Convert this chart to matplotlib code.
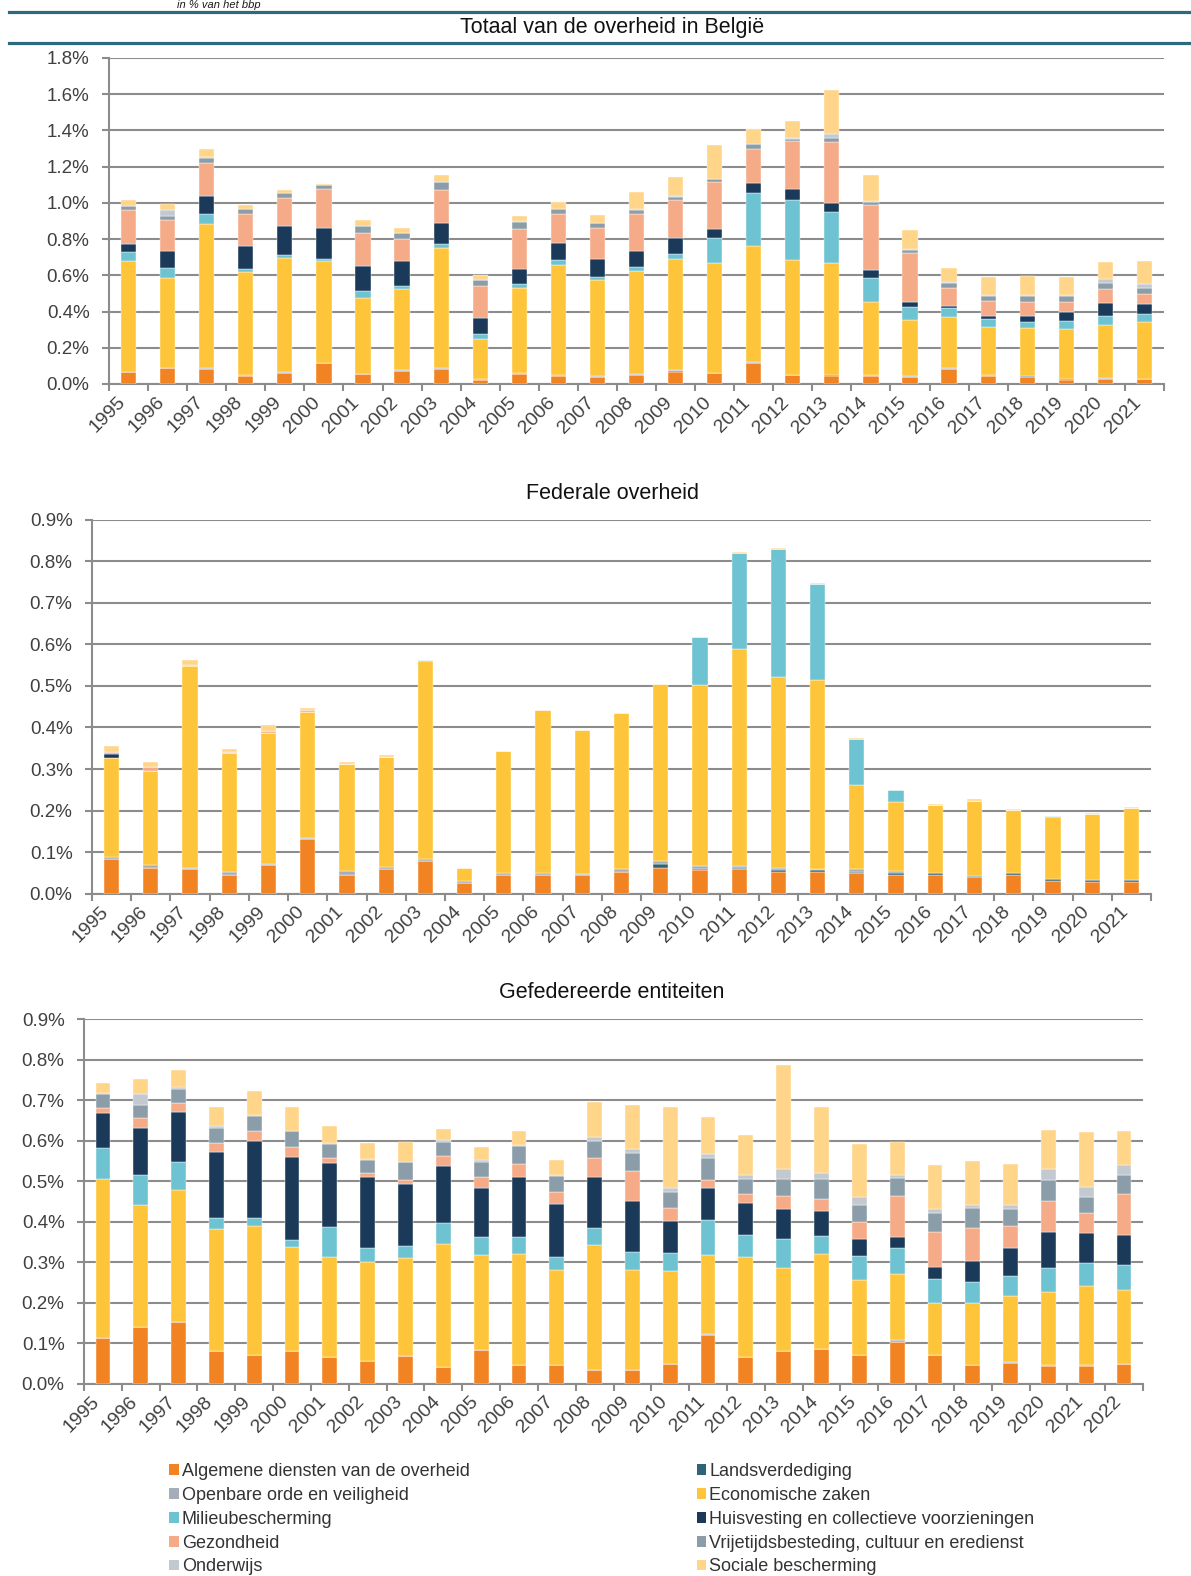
import numpy as np
import matplotlib
matplotlib.use("Agg")
import matplotlib.pyplot as plt
from matplotlib.patches import Patch
from matplotlib.lines import Line2D

plt.rcParams['font.family'] = ['Liberation Sans', 'DejaVu Sans']

# categorieen (volgorde van stapeling, van onder naar boven)
categorieen = ["Algemene diensten van de overheid", "Landsverdediging",
               "Openbare orde en veiligheid", "Economische zaken",
               "Milieubescherming", "Huisvesting en collectieve voorzieningen",
               "Gezondheid", "Vrijetijdsbesteding, cultuur en eredienst",
               "Onderwijs", "Sociale bescherming"]
kleuren = ["#F28322", "#2E6378", "#A5ADB8", "#FFC53A", "#6EC3D3",
           "#1B3A5A", "#F5AA88", "#8B9DA8", "#C3C9D0", "#FFD58A"]

jaren_tot = [str(j) for j in range(1995, 2022)]
jaren_fed = [str(j) for j in range(1995, 2022)]
jaren_gef = [str(j) for j in range(1995, 2023)]

# Totaal van de overheid in Belgie (in % van het bbp)
tot_alg = [.064, .086, .083, .044, .062, .116, .053, .072, .084, .024, .057, .046, .040, .051,
           .068, .059, .116, .048, .046, .046, .040, .083, .044, .040, .024, .029, .026]
tot_def = [0, 0, 0, 0, 0, 0, 0, 0, 0, 0, 0, 0, 0, 0,
           .005, 0, 0, 0, .005, 0, 0, 0, 0, .005, .005, 0, 0]
tot_ord = [.005, .004, .003, .003, .003, .002, .003, .003, .003, .002, .003, .003, .003, .004,
           .003, .004, .003, .004, 0, .005, .004, .005, .007, 0, 0, .006, .004]
tot_eco = [.608, .493, .795, .571, .630, .563, .417, .448, .662, .220, .470, .610, .531, .567,
           .612, .603, .644, .632, .615, .400, .312, .283, .265, .263, .276, .290, .313]
tot_mil = [.050, .059, .055, .019, .015, .011, .041, .016, .022, .029, .020, .024, .019, .024,
           .028, .141, .290, .334, .283, .136, .068, .049, .044, .033, .044, .049, .046]
tot_huis = [.047, .090, .101, .123, .162, .169, .136, .140, .119, .092, .083, .097, .095, .088,
            .088, .050, .057, .061, .051, .041, .027, .009, .014, .033, .049, .072, .053]
tot_gez = [.184, .176, .183, .181, .157, .216, .183, .119, .183, .172, .224, .161, .174, .207,
           .214, .257, .187, .260, .338, .359, .272, .099, .085, .081, .053, .079, .057]
tot_vrij = [.024, .022, .028, .026, .026, .022, .037, .035, .041, .033, .040, .026, .026, .017,
            .017, .016, .026, .015, .022, .019, .018, .032, .027, .029, .033, .031, .029]
tot_ond = [.003, .031, .003, .002, .002, .002, .003, .003, .003, .003, .003, .002, .002, .011,
           .003, .003, .002, .005, .022, .005, .002, .002, .004, .008, .006, .024, .022]
tot_soc = [.032, .035, .046, .022, .016, .005, .035, .028, .037, .025, .025, .037, .044, .090,
           .103, .188, .081, .091, .240, .143, .108, .080, .101, .106, .101, .095, .131]

# Federale overheid
fed_alg = [.083, .061, .059, .046, .068, .132, .046, .060, .079, .026, .045, .045, .045, .053,
           .062, .057, .059, .053, .053, .050, .046, .046, .039, .045, .030, .029, .029]
fed_def = [0, 0, 0, 0, 0, 0, 0, 0, 0, 0, 0, 0, 0, 0,
           .009, .003, .004, .004, .003, .003, .004, .004, .004, .005, .005, .005, .005]
fed_ord = [.006, .008, .004, .007, .004, .002, .009, .004, .004, .004, .005, .005, .003, .007,
           .008, .007, .004, .005, .004, .006, .005, 0, 0, 0, 0, 0, 0]
fed_eco = [.238, .225, .484, .285, .314, .304, .258, .266, .478, .032, .293, .391, .347, .374,
           .425, .435, .521, .459, .454, .203, .165, .163, .181, .152, .150, .158, .172]
fed_mil = [0, 0, 0, 0, 0, 0, 0, 0, .002, 0, 0, 0, 0, 0,
           0, .116, .231, .309, .230, .111, .030, 0, 0, 0, .003, 0, 0]
fed_huis = [.009, 0, 0, 0, 0, 0, 0, 0, 0, 0, 0, 0, 0, 0,
            0, 0, 0, 0, 0, 0, 0, 0, 0, 0, 0, 0, 0]
fed_gez = [.005, .012, .004, .002, .006, .004, 0, 0, 0, 0, 0, 0, 0, 0,
           0, 0, 0, 0, 0, 0, 0, 0, 0, 0, 0, 0, 0]
fed_vrij = [0] * 27
fed_ond = [0] * 27
fed_soc = [.015, .011, .012, .009, .013, .005, .003, .003, 0, 0, 0, 0, 0, 0,
           0, 0, .002, .002, .003, .002, 0, .002, .003, .002, 0, .002, .003]

# Gefedereerde entiteiten
gef_alg = [.112, .140, .153, .080, .072, .080, .066, .055, .069, .040, .084, .045, .045, .035,
           .034, .048, .121, .066, .081, .086, .071, .104, .071, .047, .050, .043, .044, .048]
gef_def = [0] * 28
gef_ord = [0, 0, 0, 0, 0, 0, 0, 0, 0, 0, 0, 0, 0, 0,
           0, 0, .002, 0, 0, 0, 0, .004, 0, 0, .003, .002, .002, 0]
gef_eco = [.393, .300, .325, .301, .317, .257, .247, .245, .242, .304, .233, .276, .235, .308,
           .246, .229, .195, .247, .204, .234, .184, .162, .127, .152, .163, .181, .195, .183]
gef_mil = [.077, .075, .068, .027, .021, .017, .073, .034, .029, .053, .046, .041, .033, .041,
           .045, .045, .085, .054, .073, .045, .059, .065, .060, .051, .051, .060, .058, .063]
gef_huis = [.085, .116, .125, .164, .190, .205, .158, .175, .152, .140, .120, .147, .130, .125,
            .125, .079, .079, .080, .073, .062, .044, .027, .029, .052, .068, .088, .072, .072]
gef_gez = [.014, .024, .022, .022, .023, .026, .013, .012, .010, .025, .028, .032, .030, .049,
           .074, .033, .021, .020, .031, .030, .041, .101, .087, .081, .053, .078, .051, .102]
gef_vrij = [.033, .034, .035, .038, .038, .038, .034, .032, .044, .034, .037, .045, .040, .041,
            .045, .040, .054, .037, .043, .047, .043, .044, .047, .051, .043, .050, .038, .046]
gef_ond = [.003, .026, .004, .003, .002, .001, .002, .002, .002, .006, .004, .002, .003, .010,
           .009, .010, .010, .010, .024, .017, .018, .008, .010, .007, .009, .027, .026, .025]
gef_soc = [.026, .037, .042, .047, .060, .058, .042, .039, .048, .026, .032, .035, .037, .087,
           .110, .199, .090, .099, .257, .161, .132, .081, .109, .108, .103, .097, .136, .085]

W, H = 1191, 1576
fig = plt.figure(figsize=(W / 100, H / 100), dpi=100)

grijs = "#8C8C8C"


def paneel(rect, jaren, reeksen, ymax, stap):
    """Tekent een gestapeld staafdiagram in de stijl van Excel"""
    l, t, r, b = rect
    ax = fig.add_axes([l / W, 1 - b / H, (r - l) / W, (b - t) / H])
    x = np.arange(len(jaren))
    onder = np.zeros(len(jaren))
    for waarden, kleur in zip(reeksen, kleuren):
        waarden = np.array(waarden, dtype=float)
        ax.bar(x, waarden, 0.39, bottom=onder, color=kleur,
               edgecolor="white", linewidth=0.3, zorder=3)
        onder += waarden
    ax.set_xlim(-0.5, len(jaren) - 0.5)
    ax.set_ylim(0, ymax)
    ax.set_yticks(np.arange(0, ymax + stap / 2, stap))
    ax.set_yticklabels(["%.1f%%" % v for v in np.arange(0, ymax + stap / 2, stap)])
    ax.yaxis.grid(True, color=grijs, linewidth=1.5, zorder=0)
    ax.set_axisbelow(True)
    ax.set_xticks(x)
    ax.set_xticklabels(jaren, rotation=45, ha="right")
    ax.set_xticks(np.arange(-0.5, len(jaren)), minor=True)
    ax.tick_params(axis="x", which="major", length=0, pad=7, labelsize=14, labelcolor="#404040")
    ax.tick_params(axis="x", which="minor", length=5, width=1.5, color=grijs)
    ax.tick_params(axis="y", length=5, width=1.5, color=grijs, pad=9,
                   labelsize=13.5, labelcolor="#404040")
    for s in ["top", "right"]:
        ax.spines[s].set_visible(False)
    for s in ["left", "bottom"]:
        ax.spines[s].set_color(grijs)
        ax.spines[s].set_linewidth(1.5)
    return ax


paneel((109, 58, 1164, 384), jaren_tot,
       [tot_alg, tot_def, tot_ord, tot_eco, tot_mil, tot_huis, tot_gez, tot_vrij, tot_ond, tot_soc],
       1.8, 0.2)
paneel((92, 519.6, 1151, 893.7), jaren_fed,
       [fed_alg, fed_def, fed_ord, fed_eco, fed_mil, fed_huis, fed_gez, fed_vrij, fed_ond, fed_soc],
       0.9, 0.1)
paneel((84, 1019, 1143, 1383.7), jaren_gef,
       [gef_alg, gef_def, gef_ord, gef_eco, gef_mil, gef_huis, gef_gez, gef_vrij, gef_ond, gef_soc],
       0.9, 0.1)

# kop bovenaan
teal = "#2E6A7E"
fig.text(177 / W, 1 - 8.5 / H, "in % van het bbp", fontsize=8, style="italic",
         color="#1a1a1a", va="baseline")
for y in (11.7, 42.5):
    fig.add_artist(Line2D([9 / W, 1.0], [1 - y / H, 1 - y / H], color=teal,
                          linewidth=2.3, zorder=5))

fig.text(612 / W, 1 - 28 / H, "Totaal van de overheid in België", fontsize=15.5,
         ha="center", va="center", color="#111111")
fig.text(612 / W, 1 - 493.5 / H, "Federale overheid", fontsize=15.5,
         ha="center", va="center", color="#111111")
fig.text(612 / W, 1 - 992 / H, "Gefedereerde entiteiten", fontsize=15.5,
         ha="center", va="center", color="#111111")

# legende in twee kolommen (rijsgewijs gevuld)
handles = [Patch(facecolor=k, edgecolor="none") for k in kleuren]
for kol, xpos in ((0, 169), (1, 696.5)):
    idx = list(range(kol, 10, 2))
    fig.legend([handles[i] for i in idx], [categorieen[i] for i in idx],
               loc="upper left", bbox_to_anchor=(xpos / W, 1 - 1463 / H),
               frameon=False, fontsize=13, borderpad=0, borderaxespad=0,
               handlelength=0.55, handleheight=0.55, handletextpad=0.15,
               labelspacing=0.38, labelcolor="#333333")

fig.savefig("out.png", dpi=100)
